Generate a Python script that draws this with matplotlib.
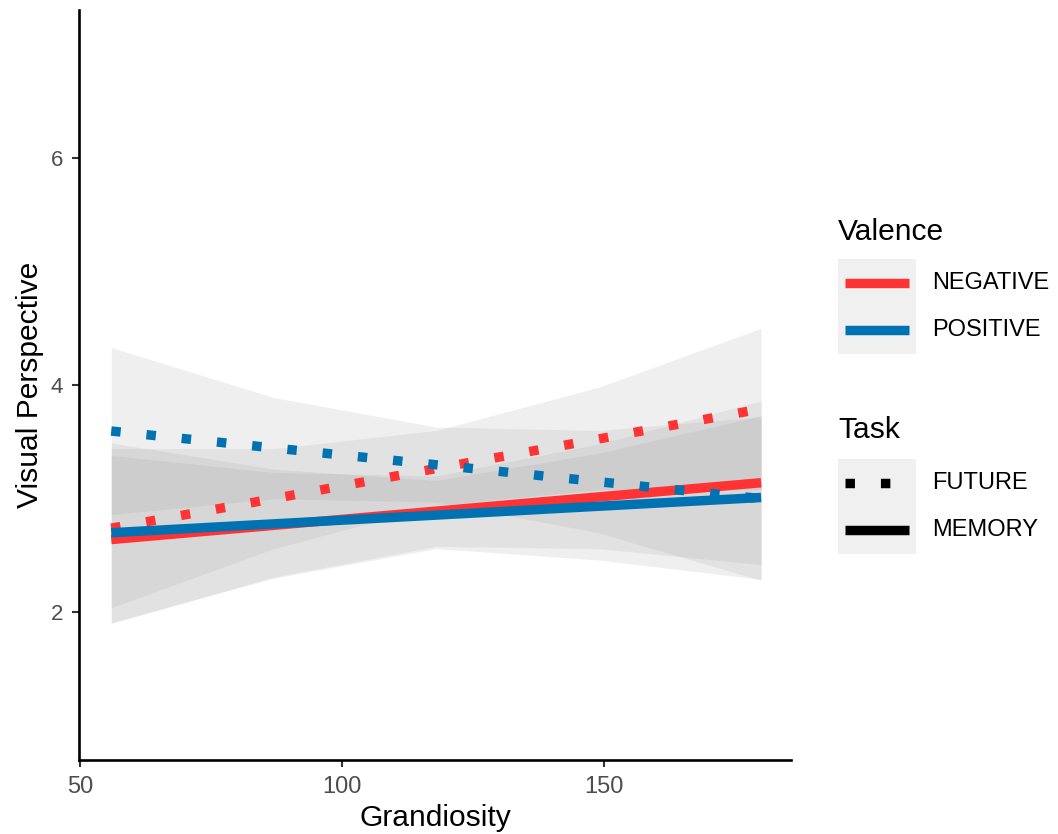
import matplotlib
matplotlib.use('Agg')
import matplotlib.pyplot as plt
from matplotlib.lines import Line2D
from matplotlib.patches import Rectangle

plt.rcParams['font.family'] = ['Liberation Sans', 'DejaVu Sans']

W, H = 1058, 834

# ---- data ----
grandiosity = [56, 87, 118, 149, 180]

# fitted lines: Valence x Task
neg_future = [2.74, 3.00, 3.265, 3.525, 3.79]
pos_future = [3.595, 3.446, 3.298, 3.149, 3.00]
neg_memory = [2.64, 2.765, 2.89, 3.015, 3.14]
pos_memory = [2.70, 2.778, 2.855, 2.933, 3.01]

# confidence bands
neg_future_lo = [2.04, 2.56, 2.94, 3.08, 3.08]
neg_future_hi = [3.44, 3.44, 3.60, 3.98, 4.50]
pos_future_lo = [2.86, 3.00, 2.97, 2.70, 2.28]
pos_future_hi = [4.33, 3.89, 3.63, 3.60, 3.72]
neg_memory_lo = [1.90, 2.31, 2.58, 2.56, 2.42]
neg_memory_hi = [3.38, 3.23, 3.20, 3.48, 3.86]
pos_memory_lo = [1.91, 2.30, 2.56, 2.46, 2.29]
pos_memory_hi = [3.49, 3.26, 3.16, 3.40, 3.73]

valence_labels = ['NEGATIVE', 'POSITIVE']
task_labels = ['FUTURE', 'MEMORY']

RED = '#FF3333'
BLUE = '#0072B2'
LW = 6.8
DOTS = (0, (1, 2.75))

fig = plt.figure(figsize=(W / 100, H / 100), dpi=100)
ax = fig.add_axes([79 / W, 1 - 760 / H, (791 - 79) / W, (760 - 10) / H])

# ribbons first, lines on top (ggplot layer order)
bands = [(neg_future_lo, neg_future_hi), (neg_memory_lo, neg_memory_hi),
         (pos_future_lo, pos_future_hi), (pos_memory_lo, pos_memory_hi)]
for lo, hi in bands:
    ax.fill_between(grandiosity, lo, hi, color='#999999', alpha=0.15, linewidth=0)

series = [(neg_future, RED, DOTS), (neg_memory, RED, '-'),
          (pos_future, BLUE, DOTS), (pos_memory, BLUE, '-')]
for yv, col, ls in series:
    ax.plot(grandiosity, yv, color=col, lw=LW, linestyle=ls,
            solid_capstyle='butt', dash_capstyle='butt')

ax.set_xlim(49.85, 185.7)
ax.set_ylim(0.7, 7.3)
ax.set_xticks([50, 100, 150])
ax.set_yticks([2, 4, 6])
for s in ['top', 'right']:
    ax.spines[s].set_visible(False)
for s in ['left', 'bottom']:
    ax.spines[s].set_linewidth(1.9)
    ax.spines[s].set_color('black')
ax.tick_params(axis='both', length=5, width=1.5, color='#333333',
               labelcolor='#4D4D4D', pad=6.5)
ax.tick_params(axis='x', labelsize=17)
ax.tick_params(axis='y', labelsize=16)

ax.set_xlabel('Grandiosity', fontsize=21.6, va='center')
ax.xaxis.set_label_coords(0.5, -(818 - 760) / 750)
ax.set_ylabel('Visual Perspective', fontsize=21.6, va='center')
ax.yaxis.set_label_coords(-(79 - 30) / 712, 0.5)


# ---- legend (ggplot style, drawn in pixel layout) ----
def fx(x):
    return x / W


def fy(y):
    return 1 - y / H


def legend_block(title, title_y, box_top, labels, styles):
    fig.text(fx(838), fy(title_y), title, fontsize=21.6, ha='left', va='center')
    key_h = 47.5
    fig.add_artist(Rectangle((fx(838), fy(box_top + key_h * len(labels))),
                             78 / W, key_h * len(labels) / H,
                             transform=fig.transFigure, facecolor='#F0F0F0',
                             edgecolor='none'))
    for i, (lab, (col, ls)) in enumerate(zip(labels, styles)):
        yc = box_top + key_h * (i + 0.5)
        fig.add_artist(Line2D([fx(845), fx(909)], [fy(yc), fy(yc)],
                              transform=fig.transFigure, color=col, lw=LW,
                              linestyle=ls, solid_capstyle='butt',
                              dash_capstyle='butt'))
        fig.text(fx(932), fy(yc), lab, fontsize=17, ha='left', va='center')


legend_block('Valence', 232, 259, valence_labels, [(RED, '-'), (BLUE, '-')])
legend_block('Task', 430, 459, task_labels, [('black', DOTS), ('black', '-')])

fig.savefig('out.png', dpi=100)
